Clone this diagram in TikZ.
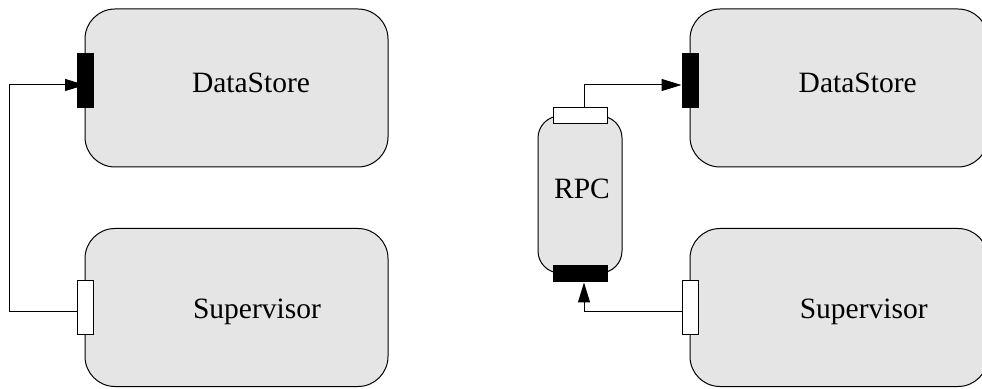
\documentclass[tikz,border=0pt]{standalone}
\usepackage{fontspec}
\setmainfont{Liberation Serif}
\usetikzlibrary{arrows.meta,backgrounds}
\def\boxwidth{303pt}
\def\boxheight{158pt}
\def\portlen{54pt}
\def\portthick{16pt}

\begin{document}
\begin{tikzpicture}[x=1pt,y=1pt]
            \tikzstyle{module}=[draw,line width=1pt,fill=black!10,rounded corners=30pt,minimum width=\boxwidth,minimum height=\boxheight,inner sep=0pt]
            \tikzstyle{stub}=[module,rounded corners=22pt,minimum width=84pt,minimum height=157pt]
            \tikzstyle{modtext}=[font=\fontsize{29.5}{35}\selectfont,inner sep=0pt]
            \tikzstyle{port}=[draw,line width=1pt,inner sep=0pt]
            \tikzstyle{in port}=[port,fill=black]
            \tikzstyle{out port}=[port,fill=white]
            \tikzstyle{vport}=[minimum width=\portthick,minimum height=\portlen]
            \tikzstyle{hport}=[minimum width=\portlen,minimum height=\portthick]
            \tikzstyle{wire}=[line width=1pt,-{Triangle[length=20pt,width=12pt]}]

            \useasboundingbox (0,0) rectangle (982,388);
            \clip (0,0) rectangle (982,388);

            % Draw the direct connection on the left
            \node[module, label={[name=ds1-t,modtext,xshift=14.5pt,yshift=5.5pt]center:DataStore}] (ds1) at (236.5,300) {};
            \node[module, label={[name=sv1-t,modtext,xshift=20.5pt,yshift=-4pt]center:Supervisor}] (sv1) at (236.5,80.5) {};
            \node[in port, vport] (dp1) at (85,307) {};
            \node[out port, vport] (sp1) at (85,80) {};

            % Draw the connection through the RPC stub on the right
            \node[module, minimum width=298pt, label={[name=ds2-t,modtext,xshift=18.7pt,yshift=5.5pt]center:DataStore}] (ds2) at (839,300) {};
            \node[module, minimum width=298pt, label={[name=sv2-t,modtext,xshift=24.7pt,yshift=-4pt]center:Supervisor}] (sv2) at (839,80.5) {};
            \node[in port, vport] (dp2) at (690,307) {};
            \node[out port, vport] (sp2) at (690,80) {};

            \node[stub, label={[name=rpc-t,modtext,xshift=2pt,yshift=6pt]center:RPC}] (rpc) at (580,193.5) {};
            \node[out port, hport] (rp1) at (580,272) {};
            \node[in port, hport] (rp2) at (580,114) {};

            % Connect the ports
            \begin{pgfonlayer}{background}
                \draw[wire] ([yshift=-4pt]sp1.west) -- ++(-67,0) |- ([yshift=-4pt]dp1.center);
                \draw[wire] ([yshift=-4pt]sp2.west) -| ([xshift=4pt]rp2.south);
                \draw[wire] ([xshift=4pt]rp1.north) |- ([yshift=-4pt]dp2.west);
            \end{pgfonlayer}
\end{tikzpicture}
\end{document}
